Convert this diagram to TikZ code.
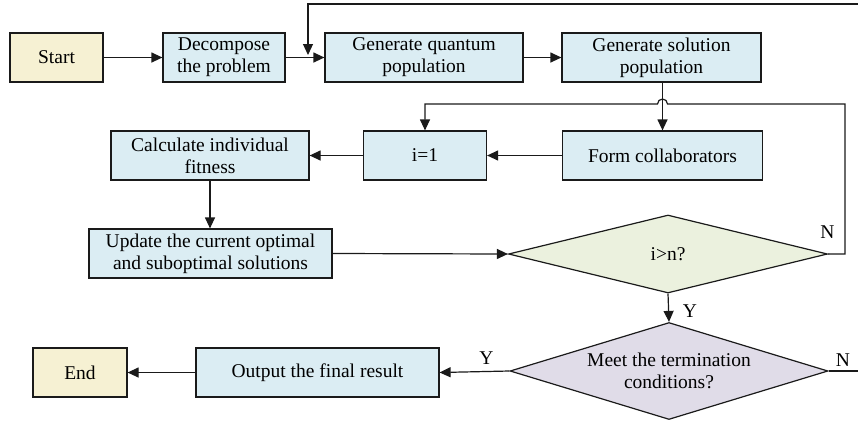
\documentclass[tikz,border=0pt]{standalone}
\usepackage{fontspec}
\setmainfont{Liberation Serif}
\usetikzlibrary{arrows.meta,shapes.geometric}
\definecolor{boxblue}{HTML}{DBEDF3}
\definecolor{boxcream}{HTML}{F6F1D3}
\definecolor{dgreen}{HTML}{EBF1DE}
\definecolor{dlav}{HTML}{E0DCE8}
\definecolor{edge}{HTML}{1A1A1A}
\tikzset{
  base/.style={draw=edge,line width=1.2pt,inner sep=0pt,align=center,
    font=\fontsize{19.5}{22}\selectfont},
  bluebox/.style={base,rectangle,fill=boxblue},
  creambox/.style={base,rectangle,fill=boxcream},
  dia/.style={base,diamond,shape aspect=3.3},
  conn/.style={draw=edge,line width=1.2pt},
  arr/.style={conn,-{Triangle[length=11pt,width=10pt]}},
  lbl/.style={inner sep=0pt,font=\fontsize{19.5}{22}\selectfont}
}
\begin{document}
\begin{tikzpicture}[x=1pt,y=-1pt]
\useasboundingbox (0,0) rectangle (858,421);
\clip (0,0) rectangle (858,421);
\node[creambox,minimum width=93pt,minimum height=49pt] (start) at (56.5,57.5) {Start};
\node[bluebox,minimum width=122pt,minimum height=49pt] (dec) at (224,57.5) {Decompose\\the problem};
\node[bluebox,minimum width=198pt,minimum height=49pt] (gq) at (424,57.5) {Generate quantum\\population};
\node[bluebox,minimum width=199pt,minimum height=49pt] (gs) at (661.5,57.5) {Generate solution\\population};
\node[bluebox,minimum width=200pt,minimum height=49pt] (form) at (662.5,155.5) {Form collaborators};
\node[bluebox,minimum width=123pt,minimum height=49pt] (i1) at (425,155.5) {i=1};
\node[bluebox,minimum width=198pt,minimum height=49pt] (calc) at (210,155.5) {Calculate individual\\fitness};
\node[bluebox,minimum width=243pt,minimum height=49pt] (upd) at (210.5,253.5) {Update the current optimal\\and suboptimal solutions};
\node[dia,fill=dgreen,minimum width=319pt,minimum height=78pt] (d1) at (668,254) {i>n?};
\node[dia,fill=dlav,minimum width=318pt,minimum height=97pt] (d2) at (669,371) {Meet the termination\\conditions?};
\node[bluebox,minimum width=243pt,minimum height=49pt] (out) at (317.5,372.5) {Output the final result};
\node[creambox,minimum width=94pt,minimum height=49pt] (end) at (80,372.5) {End};

\coordinate (loopR) at (870,371);
\coordinate (loopTR) at (870,4);
\coordinate (loopTL) at (308,4);
\coordinate (loopEnd) at (308,55);
\coordinate (nR) at (845,254);
\coordinate (nTR) at (845,104);
\coordinate (hopR) at (667.5,104);
\coordinate (nTL) at (425,104);

\draw[arr] (start.east) -- (dec.west);
\draw[arr] (dec.east) -- (gq.west);
\draw[arr] (gq.east) -- (gs.west);
\draw[arr] (form.north |- gs.south) -- (form.north);
\draw[arr] (form.west) -- (i1.east);
\draw[arr] (i1.west) -- (calc.east);
\draw[arr] (calc.south) -- (calc.south |- upd.north);
\draw[arr] (upd.east) -- (d1.west);
\draw[arr] (d1.south) -- (d2.north);
\draw[arr] (d2.west) -- (out.east);
\draw[arr] (out.west) -- (end.east);
\draw[arr] (d1.east) -- (nR) -- (nTR) -- (hopR) arc[start angle=0,end angle=180,radius=5pt] -- (nTL) -- (i1.north);
\draw[arr] (d2.east) -- (loopR) -- (loopTR) -- (loopTL) -- (loopEnd);

\node[lbl] (y1) at (690,311) {Y};
\node[lbl] (n1) at (827.5,232) {N};
\node[lbl] (y2) at (486.5,358.5) {Y};
\node[lbl] (n2) at (843,360) {N};
\end{tikzpicture}
\end{document}
